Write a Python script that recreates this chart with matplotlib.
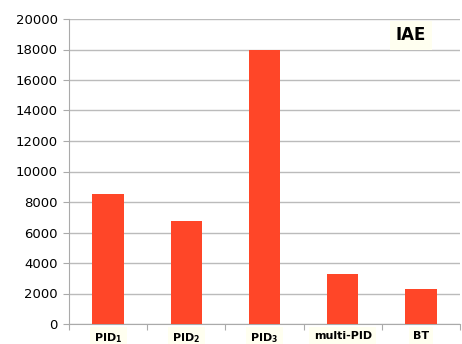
import matplotlib
matplotlib.use("Agg")
import matplotlib.pyplot as plt

categories = [r"PID$_\mathbf{1}$", r"PID$_\mathbf{2}$", r"PID$_\mathbf{3}$", "multi-PID", "BT"]
values = [8550, 6750, 18000, 3300, 2300]
yticks = [0, 2000, 4000, 6000, 8000, 10000, 12000, 14000, 16000, 18000, 20000]
title_label = "IAE"

fig = plt.figure(figsize=(4.62, 3.44), dpi=100)
ax = fig.add_axes([69/462, 20/344, 391/462, 305/344])

x = list(range(len(categories)))
ax.bar(x, values, width=0.4, color="#FF4628", zorder=3)

ax.set_xlim(-0.5, 4.4)
ax.set_ylim(0, 20000)
ax.set_yticks(yticks)
ax.set_yticklabels([str(v) for v in yticks], fontsize=9.5)
ax.yaxis.grid(True, color="#BBBBBB", linewidth=1.0, zorder=0)
ax.set_axisbelow(True)

ax.set_xticks([i - 0.5 for i in range(len(categories))] + [4.5], minor=False)
ax.set_xticklabels([])
ax.set_xticks(x, minor=True)
ax.set_xticklabels(categories, minor=True, fontsize=8, fontweight="bold")
ax.tick_params(axis="x", which="minor", length=0, pad=5)
ax.tick_params(axis="x", which="major", length=4, color="#AAAAAA")
ax.tick_params(axis="y", length=4, color="#AAAAAA", pad=4)
for lab in ax.get_xticklabels(minor=True):
    lab.set_bbox(dict(facecolor="#FFFFF0", edgecolor="none", pad=3))

for s in ["top", "right"]:
    ax.spines[s].set_visible(False)
ax.spines["left"].set_color("#AAAAAA")
ax.spines["bottom"].set_color("#AAAAAA")

ax.text(411/462, 1 - 35/344, title_label, transform=fig.transFigure, ha="center", va="center",
        fontsize=12, fontweight="bold",
        bbox=dict(facecolor="#FFFFF0", edgecolor="none", pad=4))

fig.savefig("out.png", dpi=100)
